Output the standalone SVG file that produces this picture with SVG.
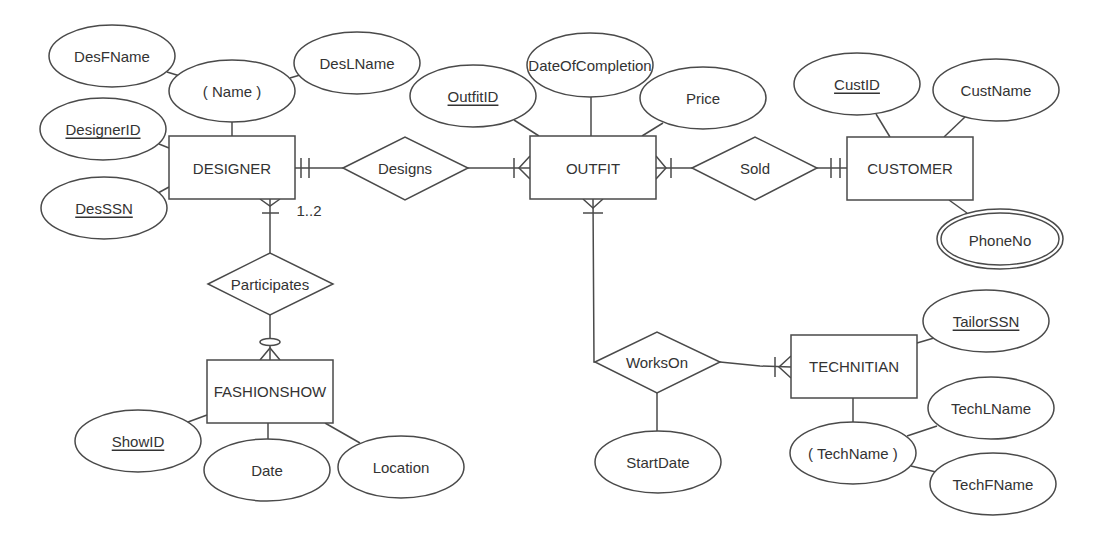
<svg xmlns="http://www.w3.org/2000/svg" width="1109" height="537" viewBox="0 0 1109 537">
<style>
  .s{fill:#fff;stroke:#4a4a4a;stroke-width:1.5}
  .l{fill:none;stroke:#4a4a4a;stroke-width:1.5}
  text{font-family:"Liberation Sans",Arial,sans-serif;font-size:15px;fill:#333;text-anchor:middle;dominant-baseline:central}
  .u{text-decoration:underline}
</style>
<rect width="1109" height="537" fill="#fff"/>
<g id="connectors">
  <!-- DESIGNER attributes -->
  <line class="l" x1="167" y1="72" x2="180" y2="76"/>
  <line class="l" x1="290" y1="78" x2="300" y2="75"/>
  <line class="l" x1="232" y1="122" x2="232" y2="136"/>
  <line class="l" x1="159" y1="144" x2="169" y2="148"/>
  <line class="l" x1="158" y1="193" x2="169" y2="187"/>
  <!-- DESIGNER - Designs -->
  <line class="l" x1="295" y1="168" x2="343" y2="168"/>
  <line class="l" x1="301" y1="158" x2="301" y2="178"/>
  <line class="l" x1="309" y1="158" x2="309" y2="178"/>
  <!-- Designs - OUTFIT -->
  <line class="l" x1="468" y1="168" x2="530" y2="168"/>
  <line class="l" x1="514" y1="158" x2="514" y2="178"/>
  <polyline class="l" points="530,156 519,168 530,179"/>
  <!-- OUTFIT attributes -->
  <line class="l" x1="514" y1="120" x2="539" y2="136"/>
  <line class="l" x1="591" y1="97" x2="591" y2="136"/>
  <line class="l" x1="663" y1="123" x2="642" y2="136"/>
  <!-- OUTFIT - Sold -->
  <line class="l" x1="656" y1="168" x2="692" y2="168"/>
  <polyline class="l" points="656,156 666,168 656,179"/>
  <line class="l" x1="671" y1="158" x2="671" y2="178"/>
  <!-- Sold - CUSTOMER -->
  <line class="l" x1="817" y1="168" x2="847" y2="168"/>
  <line class="l" x1="831" y1="158" x2="831" y2="178"/>
  <line class="l" x1="840" y1="158" x2="840" y2="178"/>
  <!-- CUSTOMER attributes -->
  <line class="l" x1="876" y1="114" x2="890" y2="137"/>
  <line class="l" x1="965" y1="117" x2="944" y2="137"/>
  <line class="l" x1="949" y1="200" x2="967" y2="213"/>
  <!-- DESIGNER - Participates -->
  <line class="l" x1="270" y1="199" x2="270" y2="253"/>
  <polyline class="l" points="260,199 270,206 280,199"/>
  <line class="l" x1="262" y1="213" x2="279" y2="213"/>
  <text x="309" y="210">1..2</text>
  <!-- Participates - FASHIONSHOW -->
  <line class="l" x1="270" y1="315" x2="270" y2="360"/>
  <ellipse class="s" cx="270" cy="342" rx="10" ry="3.5"/>
  <polyline class="l" points="260,360 270,348 280,360"/>
  <!-- FASHIONSHOW attributes -->
  <line class="l" x1="188" y1="422" x2="207" y2="415"/>
  <line class="l" x1="268" y1="423" x2="268" y2="439"/>
  <line class="l" x1="325" y1="423" x2="360" y2="443"/>
  <!-- OUTFIT - WorksOn -->
  <polyline class="l" points="593,199 594,362 595,362"/>
  <polyline class="l" points="583,199 593,208 603,199"/>
  <line class="l" x1="583" y1="213" x2="603" y2="213"/>
  <!-- WorksOn - TECHNITIAN -->
  <polyline class="l" points="720,362 760,366 791,367"/>
  <line class="l" x1="775" y1="357" x2="775" y2="377"/>
  <polyline class="l" points="791,356 779,367 791,378"/>
  <!-- WorksOn - StartDate -->
  <line class="l" x1="657" y1="393" x2="657" y2="431"/>
  <!-- TECHNITIAN attributes -->
  <line class="l" x1="917" y1="343" x2="934" y2="338"/>
  <line class="l" x1="853" y1="398" x2="853" y2="422"/>
  <line class="l" x1="907" y1="436" x2="937" y2="426"/>
  <line class="l" x1="911" y1="466" x2="936" y2="472"/>
</g>
<g id="DesFName"><ellipse class="s" cx="112" cy="56" rx="63" ry="31"/><text x="112" y="56">DesFName</text></g>
<g id="Name"><ellipse class="s" cx="232" cy="91" rx="63" ry="31"/><text x="232" y="91">( Name )</text></g>
<g id="DesLName"><ellipse class="s" cx="357" cy="63" rx="63" ry="31"/><text x="357" y="63">DesLName</text></g>
<g id="DesignerID"><ellipse class="s" cx="103" cy="129" rx="63" ry="31"/><text class="u" x="103" y="129">DesignerID</text></g>
<g id="DesSSN"><ellipse class="s" cx="104" cy="208" rx="63" ry="31"/><text class="u" x="104" y="208">DesSSN</text></g>
<g id="DESIGNER"><rect class="s" x="169" y="136" width="126" height="63"/><text x="232" y="168">DESIGNER</text></g>
<g id="Designs"><polygon class="s" points="343,168 405,137 468,168 405,200"/><text x="405" y="168">Designs</text></g>
<g id="OutfitID"><ellipse class="s" cx="473" cy="96" rx="63" ry="31"/><text class="u" x="473" y="96">OutfitID</text></g>
<g id="DateOfCompletion"><ellipse class="s" cx="590" cy="65" rx="63" ry="32"/><text x="590" y="65">DateOfCompletion</text></g>
<g id="Price"><ellipse class="s" cx="703" cy="98" rx="63" ry="31"/><text x="703" y="98">Price</text></g>
<g id="OUTFIT"><rect class="s" x="530" y="136" width="126" height="63"/><text x="593" y="168">OUTFIT</text></g>
<g id="Sold"><polygon class="s" points="692,168 755,137 817,168 755,200"/><text x="755" y="168">Sold</text></g>
<g id="CustID"><ellipse class="s" cx="857" cy="84" rx="63" ry="31"/><text class="u" x="857" y="84">CustID</text></g>
<g id="CustName"><ellipse class="s" cx="996" cy="90" rx="63" ry="31"/><text x="996" y="90">CustName</text></g>
<g id="CUSTOMER"><rect class="s" x="847" y="137" width="126" height="63"/><text x="910" y="168">CUSTOMER</text></g>
<g id="PhoneNo"><ellipse class="s" cx="1000" cy="239" rx="63" ry="30"/><ellipse class="s" cx="1000" cy="239" rx="59" ry="26"/><text x="1000" y="240">PhoneNo</text></g>
<g id="Participates"><polygon class="s" points="208,284 270,253 333,284 270,315"/><text x="270" y="284">Participates</text></g>
<g id="FASHIONSHOW"><rect class="s" x="207" y="360" width="126" height="63"/><text x="270" y="391">FASHIONSHOW</text></g>
<g id="ShowID"><ellipse class="s" cx="138" cy="441" rx="63" ry="31"/><text class="u" x="138" y="441">ShowID</text></g>
<g id="Date"><ellipse class="s" cx="267" cy="470" rx="63" ry="31"/><text x="267" y="470">Date</text></g>
<g id="Location"><ellipse class="s" cx="401" cy="467" rx="63" ry="31"/><text x="401" y="467">Location</text></g>
<g id="WorksOn"><polygon class="s" points="595,362 657,332 720,362 657,393"/><text x="657" y="362">WorksOn</text></g>
<g id="StartDate"><ellipse class="s" cx="658" cy="462" rx="63" ry="31"/><text x="658" y="462">StartDate</text></g>
<g id="TECHNITIAN"><rect class="s" x="791" y="335" width="126" height="63"/><text x="854" y="366">TECHNITIAN</text></g>
<g id="TailorSSN"><ellipse class="s" cx="986" cy="321" rx="63" ry="31"/><text class="u" x="986" y="321">TailorSSN</text></g>
<g id="TechName"><ellipse class="s" cx="853" cy="453" rx="63" ry="31"/><text x="853" y="453">( TechName )</text></g>
<g id="TechLName"><ellipse class="s" cx="991" cy="408" rx="63" ry="31"/><text x="991" y="408">TechLName</text></g>
<g id="TechFName"><ellipse class="s" cx="993" cy="484" rx="63" ry="31"/><text x="993" y="484">TechFName</text></g>
</svg>
